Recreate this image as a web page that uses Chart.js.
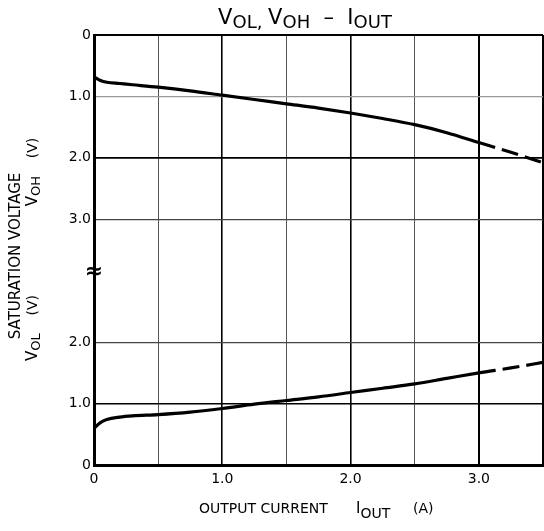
<!DOCTYPE html>
<html><head><meta charset="utf-8">
<script src="https://cdn.jsdelivr.net/npm/chart.js@4.4.1/dist/chart.umd.min.js"></script>
<style>html,body{margin:0;padding:0;background:#fff;overflow:hidden}#wrap{position:relative;width:544px;height:531px}</style>
</head><body><div id="wrap"><canvas id="c" width="544" height="531"></canvas></div>
<script>
// ---- data ----
const currentA = [0, 0.05, 0.1, 0.2, 0.3, 0.5, 0.75, 1.0, 1.25, 1.5, 1.75, 2.0, 2.25, 2.5, 2.75, 3.0, 3.25, 3.5];
const vohV     = [0.68, 0.74, 0.77, 0.79, 0.81, 0.85, 0.91, 0.98, 1.05, 1.12, 1.19, 1.27, 1.36, 1.46, 1.59, 1.75, 1.91, 2.08];
const volV     = [0.60, 0.69, 0.74, 0.78, 0.80, 0.82, 0.86, 0.92, 0.99, 1.05, 1.11, 1.18, 1.25, 1.32, 1.41, 1.50, 1.58, 1.67];
const measuredLimitA = 3.0;           // beyond this the curves are dashed
const xTickValues = [0, 0.5, 1, 1.5, 2, 2.5, 3, 3.5];
const xTickLabels = ['0', '', '1.0', '', '2.0', '', '3.0', ''];
const yTickValues = [0, 1, 2, 4, 5, 6, 7];          // axis units (VOL from bottom, VOH from top)
const yTickLabels = ['0', '1.0', '2.0', '3.0', '2.0', '1.0', '0'];
const AXIS_SPAN = 7;                                 // VOH plotted as AXIS_SPAN - V

const FONT = '"DejaVu Sans", Verdana, sans-serif';

const xGrid = {0:['#000',1], 0.5:['#555',1], 1:['#000',1.6], 1.5:['#555',1], 2:['#000',1.6], 2.5:['#555',1], 3:['#000',2], 3.5:['#000',2]};
const yGrid = {0:['#000',1], 1:['#000',1.6], 2:['#444',1.2], 4:['#444',1.2], 5:['#000',1.8], 6:['#999',1.2], 7:['#000',2]};

const dashSeg = { borderDash: c => (c.p0.parsed.x >= measuredLimitA - 1e-9 ? [17, 7] : undefined) };

function rich(ctx, parts, x, y, align) {
  let w = 0;
  for (const p of parts) { ctx.font = p[1] + 'px ' + FONT; w += ctx.measureText(p[0]).width; }
  let cx = align === 'center' ? x - w / 2 : x;
  for (const p of parts) {
    ctx.font = p[1] + 'px ' + FONT;
    ctx.fillText(p[0], cx, y + (p[2] || 0));
    cx += ctx.measureText(p[0]).width;
  }
}

const decor = {
  id: 'decor',
  afterDraw(chart) {
    const ctx = chart.ctx;
    ctx.save();
    ctx.fillStyle = '#000';
    ctx.textBaseline = 'alphabetic';
    ctx.textAlign = 'left';
    // title
    rich(ctx, [['V',21],['OL, ',18,4],['V',21],['OH',18,4],['  –  ',21],['I',21],['OUT',18,4]], 305, 24, 'center');
    // x axis title
    rich(ctx, [['OUTPUT CURRENT',14]], 199, 513);
    rich(ctx, [['I',15],['OUT',14,5]], 356, 513);
    rich(ctx, [['(A)',14]], 413, 513);
    // axis break mark
    ctx.textAlign = 'center';
    ctx.textBaseline = 'middle';
    ctx.font = 'bold 22px ' + FONT;
    ctx.fillText('≈', 94, 272);
    // y axis title (rotated)
    ctx.textAlign = 'left';
    ctx.textBaseline = 'middle';
    ctx.save();
    ctx.translate(16, 256); ctx.rotate(-Math.PI / 2);
    rich(ctx, [['SATURATION VOLTAGE',15]], 0, 0, 'center');
    ctx.restore();
    ctx.save();
    ctx.translate(33, 172); ctx.rotate(-Math.PI / 2);
    rich(ctx, [['V',15],['OH',13,4],['    (V)',14]], 0, 0, 'center');
    ctx.restore();
    ctx.save();
    ctx.translate(33, 328); ctx.rotate(-Math.PI / 2);
    rich(ctx, [['V',15],['OL',13,4],['    (V)',14]], 0, 0, 'center');
    ctx.restore();
    ctx.restore();
  }
};

new Chart(document.getElementById('c'), {
  type: 'line',
  data: {
    datasets: [
      { label: 'VOH', data: currentA.map((x, i) => ({ x, y: AXIS_SPAN - vohV[i] })), segment: dashSeg },
      { label: 'VOL', data: currentA.map((x, i) => ({ x, y: volV[i] })), segment: dashSeg }
    ]
  },
  options: {
    responsive: false, animation: false, devicePixelRatio: 1,
    layout: { padding: { top: 35, right: 1, left: 0, bottom: 0 } },
    elements: {
      line: { borderColor: '#000', borderWidth: 3.2, cubicInterpolationMode: 'monotone', fill: false, borderCapStyle: 'butt' },
      point: { radius: 0 }
    },
    plugins: { legend: { display: false }, tooltip: { enabled: false }, title: { display: false } },
    scales: {
      x: {
        type: 'linear', min: 0, max: 3.5,
        afterBuildTicks: s => { s.ticks = xTickValues.map(v => ({ value: v })); },
        afterFit: s => { s.height = 66; s.paddingRight = 0; s.paddingLeft = 0; },
        ticks: { callback: (v, i) => xTickLabels[i], color: '#000', font: { family: FONT, size: 14 }, padding: 6, maxRotation: 0, autoSkip: false },
        grid: { drawTicks: false, color: c => (xGrid[c.tick.value] || ['#000',1])[0], lineWidth: c => (xGrid[c.tick.value] || ['#000',1])[1] },
        border: { color: '#000', width: 3 }
      },
      y: {
        type: 'linear', min: 0, max: 7,
        afterBuildTicks: s => { s.ticks = yTickValues.map(v => ({ value: v })); },
        afterFit: s => { s.width = 94; s.paddingTop = 0; s.paddingBottom = 0; },
        ticks: { callback: (v, i) => yTickLabels[i], color: '#000', font: { family: FONT, size: 14 }, padding: 3, autoSkip: false },
        grid: { drawTicks: false, color: c => (yGrid[c.tick.value] || ['#000',1])[0], lineWidth: c => (yGrid[c.tick.value] || ['#000',1])[1] },
        border: { color: '#000', width: 3 }
      }
    }
  },
  plugins: [decor]
});
</script></body></html>
